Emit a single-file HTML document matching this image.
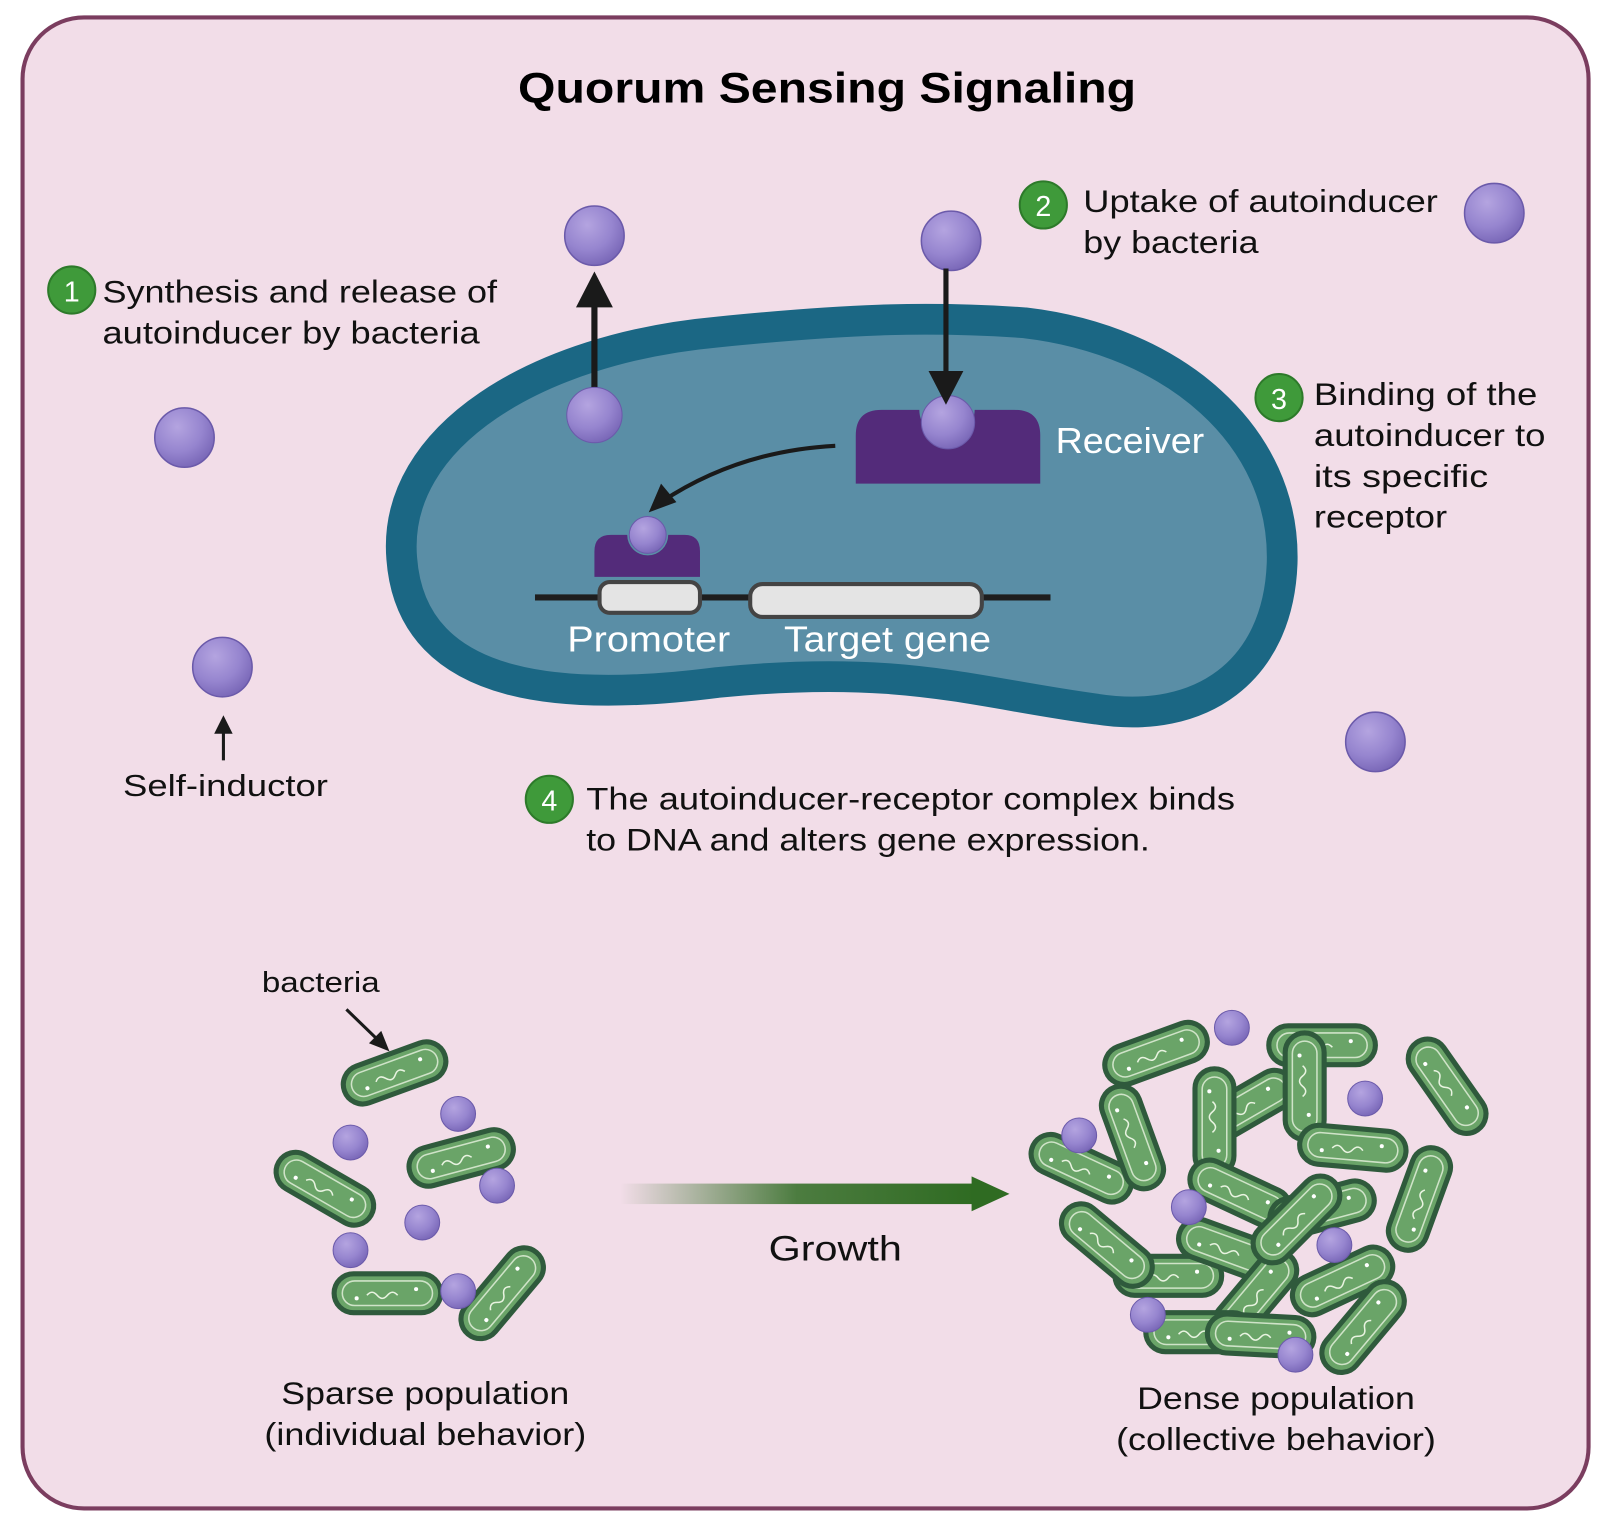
<!DOCTYPE html>
<html><head><meta charset="utf-8"><style>
html,body{margin:0;padding:0;background:#fff;}
svg{display:block;}
text{font-family:"Liberation Sans",sans-serif;}
</style></head><body>
<svg width="1607" height="1532" viewBox="0 0 1568 1495" preserveAspectRatio="none" xmlns="http://www.w3.org/2000/svg">
<defs>
<radialGradient id="sph" cx="0.38" cy="0.32" r="0.7">
<stop offset="0" stop-color="#b4a4e0"/><stop offset="0.6" stop-color="#9685cf"/><stop offset="1" stop-color="#7a68b8"/>
</radialGradient>
<linearGradient id="grow" x1="0" x2="1">
<stop offset="0" stop-color="#2f6b22" stop-opacity="0"/><stop offset="0.5" stop-color="#2f6b22" stop-opacity="0.85"/><stop offset="1" stop-color="#2f6b22"/>
</linearGradient>
<g id="bac">
<rect x="-52" y="-19" width="104" height="38" rx="19" fill="#6aa468" stroke="#2f5a3c" stroke-width="5"/>
<rect x="-44" y="-12" width="88" height="24" rx="12" fill="none" stroke="#e8f3e0" stroke-width="1.5" opacity="0.8"/>
<path d="M-20,2 q5,-6 10,0 t10,0 t10,0" fill="none" stroke="#e8f3e0" stroke-width="1.5"/>
<circle cx="28" cy="-4" r="2" fill="#fff"/><circle cx="-30" cy="5" r="2" fill="#fff"/>
</g>
<g id="dot"><circle r="17" fill="url(#sph)" stroke="#6b5aaa" stroke-width="1"/></g>
<g id="big"><circle r="29" fill="url(#sph)" stroke="#6b5aaa" stroke-width="1.5"/></g>
</defs>
<rect x="22" y="17" width="1528" height="1455" rx="60" fill="#f2dde8" stroke="#7b3d5f" stroke-width="4"/>
<text x="807" y="100" text-anchor="middle" font-size="42" font-weight="bold" fill="#000" textLength="603" lengthAdjust="spacingAndGlyphs">Quorum Sensing Signaling</text>

<!-- cell -->
<path d="M392,545 C382,425 525,340 700,324 C820,312 900,308 1000,315 C1145,332 1255,425 1251,550 C1247,655 1172,708 1070,692 C950,676 880,648 700,666 C560,684 402,680 392,545 Z" fill="#5a8ea6" stroke="#1b6784" stroke-width="30"/>

<!-- step labels -->
<g font-size="31" fill="#111">
<circle cx="70" cy="283" r="23" fill="#3f9a3a" stroke="#2d7a2a" stroke-width="2"/><text x="70" y="294" text-anchor="middle" fill="#fff" font-size="28">1</text>
<text x="100" y="295" textLength="385" lengthAdjust="spacingAndGlyphs">Synthesis and release of</text><text x="100" y="335" textLength="368" lengthAdjust="spacingAndGlyphs">autoinducer by bacteria</text>
<circle cx="1018" cy="200" r="23" fill="#3f9a3a" stroke="#2d7a2a" stroke-width="2"/><text x="1018" y="211" text-anchor="middle" fill="#fff" font-size="28">2</text>
<text x="1057" y="207" textLength="346" lengthAdjust="spacingAndGlyphs">Uptake of autoinducer</text><text x="1057" y="247" textLength="171" lengthAdjust="spacingAndGlyphs">by bacteria</text>
<circle cx="1248" cy="388" r="23" fill="#3f9a3a" stroke="#2d7a2a" stroke-width="2"/><text x="1248" y="399" text-anchor="middle" fill="#fff" font-size="28">3</text>
<text x="1282" y="395" textLength="218" lengthAdjust="spacingAndGlyphs">Binding of the</text><text x="1282" y="435" textLength="226" lengthAdjust="spacingAndGlyphs">autoinducer to</text><text x="1282" y="475" textLength="170" lengthAdjust="spacingAndGlyphs">its specific</text><text x="1282" y="515" textLength="130" lengthAdjust="spacingAndGlyphs">receptor</text>
<circle cx="536" cy="780" r="23" fill="#3f9a3a" stroke="#2d7a2a" stroke-width="2"/><text x="536" y="791" text-anchor="middle" fill="#fff" font-size="28">4</text>
<text x="572" y="790" textLength="633" lengthAdjust="spacingAndGlyphs">The autoinducer-receptor complex binds</text><text x="572" y="830" textLength="550" lengthAdjust="spacingAndGlyphs">to DNA and alters gene expression.</text>
</g>

<!-- spheres -->
<use href="#big" x="580" y="230"/><use href="#big" x="928" y="235"/><use href="#big" x="1458" y="208"/>
<use href="#big" x="180" y="427"/><use href="#big" x="217" y="651"/><use href="#big" x="1342" y="724"/>

<!-- arrows -->
<line x1="580" y1="380" x2="580" y2="295" stroke="#1a1a1a" stroke-width="6"/>
<polygon points="580,265 562,300 598,300" fill="#1a1a1a"/>
<circle cx="580" cy="405" r="27" fill="url(#sph)" stroke="#6b5aaa"/>
<line x1="923" y1="262" x2="923" y2="365" stroke="#1a1a1a" stroke-width="5"/>

<!-- receiver -->
<path d="M835,472 L835,425 Q835,400 860,400 L897,400 A27,27 0 0 0 951,400 L990,400 Q1015,400 1015,425 L1015,472 Z" fill="#532b7a"/>
<circle cx="925" cy="412" r="26" fill="url(#sph)" stroke="#6b5aaa"/>
<polygon points="923,395 906,362 940,362" fill="#1a1a1a"/>
<text x="1030" y="442" font-size="35" fill="#fff" textLength="145" lengthAdjust="spacingAndGlyphs">Receiver</text>
<path d="M815,435 Q720,440 645,490" fill="none" stroke="#1a1a1a" stroke-width="4"/>
<polygon points="633,500 645,472 660,490" fill="#1a1a1a"/>

<!-- DNA -->
<line x1="522" y1="583" x2="1025" y2="583" stroke="#1e1e1e" stroke-width="6"/>
<path d="M580,563 L580,538 Q580,522 596,522 L612,522 A20,20 0 0 0 652,522 L668,522 Q683,522 683,538 L683,563 Z" fill="#532b7a"/>
<circle cx="632" cy="522" r="18" fill="url(#sph)" stroke="#6b5aaa"/>
<rect x="585" y="568" width="98" height="30" rx="10" fill="#e4e4e4" stroke="#444" stroke-width="4"/>
<rect x="732" y="570" width="226" height="32" rx="12" fill="#e4e4e4" stroke="#444" stroke-width="4"/>
<text x="633" y="636" font-size="35" fill="#fff" text-anchor="middle" textLength="159" lengthAdjust="spacingAndGlyphs">Promoter</text>
<text x="866" y="636" font-size="35" fill="#fff" text-anchor="middle" textLength="202" lengthAdjust="spacingAndGlyphs">Target gene</text>

<!-- self-inductor -->
<line x1="218" y1="742" x2="218" y2="712" stroke="#1a1a1a" stroke-width="3"/>
<polygon points="218,698 209,716 227,716" fill="#1a1a1a"/>
<text x="220" y="777" font-size="30" text-anchor="middle" fill="#111" textLength="200" lengthAdjust="spacingAndGlyphs">Self-inductor</text>

<!-- sparse -->
<text x="313" y="968" font-size="28" text-anchor="middle" fill="#111" textLength="115" lengthAdjust="spacingAndGlyphs">bacteria</text>
<line x1="338" y1="985" x2="372" y2="1018" stroke="#1a1a1a" stroke-width="3"/>
<polygon points="380,1026 360,1018 372,1006" fill="#1a1a1a"/>
<use href="#bac" transform="translate(385,1047) rotate(-20)"/>
<use href="#bac" transform="translate(317,1160) rotate(30)"/>
<use href="#bac" transform="translate(450,1130) rotate(-15)"/>
<use href="#bac" transform="translate(378,1262)"/>
<use href="#bac" transform="translate(490,1262) rotate(-50)"/>
<use href="#dot" x="447" y="1087"/><use href="#dot" x="342" y="1115"/><use href="#dot" x="485" y="1157"/>
<use href="#dot" x="412" y="1193"/><use href="#dot" x="342" y="1220"/><use href="#dot" x="447" y="1260"/>
<text x="415" y="1370" font-size="31" text-anchor="middle" fill="#111" textLength="281" lengthAdjust="spacingAndGlyphs">Sparse population</text>
<text x="415" y="1410" font-size="31" text-anchor="middle" fill="#111" textLength="314" lengthAdjust="spacingAndGlyphs">(individual behavior)</text>

<!-- growth -->
<rect x="605" y="1155" width="345" height="20" fill="url(#grow)"/>
<polygon points="948,1148 985,1165 948,1182" fill="#2f6b22"/>
<text x="815" y="1230" font-size="34" text-anchor="middle" fill="#111" textLength="130" lengthAdjust="spacingAndGlyphs">Growth</text>

<!-- dense -->
<use href="#bac" transform="translate(1128,1028) rotate(-20)"/>
<use href="#bac" transform="translate(1290,1020)"/>
<use href="#bac" transform="translate(1412,1060) rotate(55)"/>
<use href="#bac" transform="translate(1055,1140) rotate(25)"/>
<use href="#bac" transform="translate(1105,1110) rotate(70)"/>
<use href="#bac" transform="translate(1215,1080) rotate(-30)"/>
<use href="#bac" transform="translate(1185,1095) rotate(90)"/>
<use href="#bac" transform="translate(1273,1060) rotate(90)"/>
<use href="#bac" transform="translate(1320,1120) rotate(5)"/>
<use href="#bac" transform="translate(1385,1170) rotate(-70)"/>
<use href="#bac" transform="translate(1210,1165) rotate(25)"/>
<use href="#bac" transform="translate(1290,1180) rotate(-15)"/>
<use href="#bac" transform="translate(1140,1245)"/>
<use href="#bac" transform="translate(1080,1215) rotate(40)"/>
<use href="#bac" transform="translate(1200,1220) rotate(20)"/>
<use href="#bac" transform="translate(1225,1265) rotate(-50)"/>
<use href="#bac" transform="translate(1265,1190) rotate(-45)"/>
<use href="#bac" transform="translate(1310,1250) rotate(-25)"/>
<use href="#bac" transform="translate(1170,1300)"/>
<use href="#bac" transform="translate(1230,1303) rotate(3)"/>
<use href="#bac" transform="translate(1330,1295) rotate(-50)"/>
<use href="#dot" x="1202" y="1003"/><use href="#dot" x="1332" y="1072"/><use href="#dot" x="1053" y="1108"/>
<use href="#dot" x="1160" y="1178"/><use href="#dot" x="1302" y="1215"/><use href="#dot" x="1120" y="1283"/><use href="#dot" x="1264" y="1322"/>
<text x="1245" y="1375" font-size="31" text-anchor="middle" fill="#111" textLength="271" lengthAdjust="spacingAndGlyphs">Dense population</text>
<text x="1245" y="1415" font-size="31" text-anchor="middle" fill="#111" textLength="312" lengthAdjust="spacingAndGlyphs">(collective behavior)</text>
</svg>
</body></html>
